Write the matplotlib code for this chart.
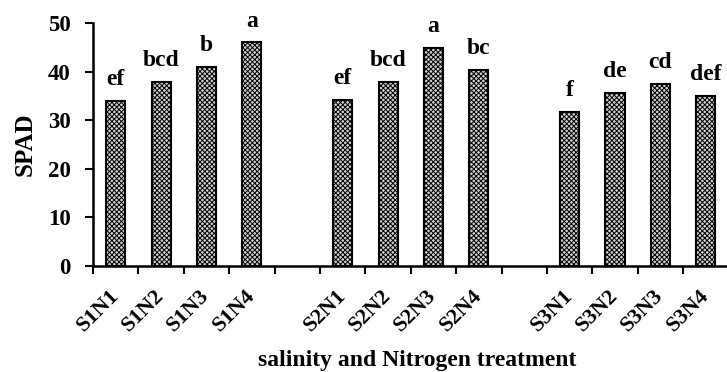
import matplotlib.pyplot as plt
import numpy as np

plt.rcParams['font.family'] = ['Liberation Serif', 'DejaVu Serif']
plt.rcParams['font.weight'] = 'bold'
plt.rcParams['hatch.linewidth'] = 0.7

# slots: 4 bars, gap, 4 bars, gap, 4 bars
treatments = ['S1N1', 'S1N2', 'S1N3', 'S1N4', '',
              'S2N1', 'S2N2', 'S2N3', 'S2N4', '',
              'S3N1', 'S3N2', 'S3N3', 'S3N4']
spad = [34.0, 37.9, 41.0, 46.0, None,
        34.2, 37.9, 44.9, 40.4, None,
        31.7, 35.6, 37.4, 35.0]
letters = ['ef', 'bcd', 'b', 'a', '',
           'ef', 'bcd', 'a', 'bc', '',
           'f', 'de', 'cd', 'def']

fig = plt.figure(figsize=(7.27, 3.72), dpi=100)
ax = fig.add_axes([0.128, 0.285, 0.874, 0.653])

for i, (name, val, let) in enumerate(zip(treatments, spad, letters)):
    if val is None:
        continue
    ax.bar(i + 0.5, val, width=0.42, facecolor='#d0d0d0', edgecolor='black',
           hatch='xxxxxxx', linewidth=1.5)
    ax.annotate(let, (i + 0.5, val), xytext=(0, 11.5), textcoords='offset points',
                ha='center', va='baseline', fontsize=17, fontweight='bold')

ax.set_xlim(0, 14)
ax.set_ylim(0, 50)
ax.set_yticks(range(0, 51, 10))
ax.set_xticks(range(14))
ax.set_xticklabels([])
centers = [i + 0.5 for i, t in enumerate(treatments) if t]
ax.set_xticks(centers, minor=True)
ax.set_xticklabels([t for t in treatments if t], minor=True, rotation=45,
                   ha='right', va='center', rotation_mode='anchor',
                   fontsize=16, fontweight='bold')
ax.tick_params(axis='x', which='minor', length=0, pad=19)
ax.tick_params(axis='both', which='major', direction='out', length=6, width=1.5,
               labelsize=16.5)
ax.tick_params(axis='y', pad=10)
for lab in ax.get_yticklabels():
    lab.set_fontweight('bold')

for s in ['top', 'right']:
    ax.spines[s].set_visible(False)
for s in ['left', 'bottom']:
    ax.spines[s].set_linewidth(1.8)

ax.set_ylabel('SPAD', fontsize=18, fontweight='bold', labelpad=8)
fig.text(0.574, 0.015, 'salinity and Nitrogen treatment', ha='center',
         va='baseline', fontsize=17, fontweight='bold')

fig.savefig('out.png', dpi=100)
